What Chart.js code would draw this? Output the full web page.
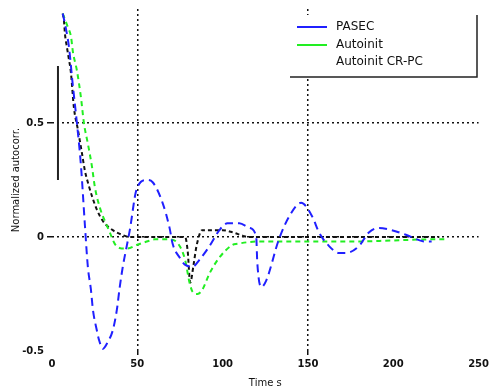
<!DOCTYPE html>
<html>
<head>
<meta charset="utf-8">
<script src="https://cdn.jsdelivr.net/npm/chart.js@4/dist/chart.umd.min.js"></script>
<style>
  html, body { margin: 0; padding: 0; background: #fff; }
  canvas { display: block; }
</style>
</head>
<body>
<canvas id="c" width="492" height="389"></canvas>
<script>
// Series names
const seriesNames = ['PASEC', 'Autoinit', 'Autoinit CR-PC'];

// Lag positions and values for each series
const lagsA = [6.3, 8, 10, 12, 14.6, 17, 19.3, 21, 22.8, 24, 26.3, 27.5, 29.8, 32.7, 35.6, 38, 39.7, 41.5, 43.8, 45.6, 49.6, 55.5, 59, 64.8, 68.9, 70.7, 74.8, 77.7, 82.4, 86.4, 92.3, 98.1, 102.8, 109.8, 115.7, 119.7, 120.3, 122.7, 125.6, 133, 139, 146, 152.5, 156.5, 162.4, 168.2, 172.3, 179.9, 185.7, 191.6, 199.2, 207.4, 219, 222.5];
const valsA = [0.98, 0.92, 0.83, 0.68, 0.50, 0.31, 0.05, -0.13, -0.23, -0.32, -0.41, -0.45, -0.49, -0.46, -0.41, -0.32, -0.22, -0.13, -0.04, 0.03, 0.21, 0.25, 0.24, 0.15, 0.04, -0.03, -0.09, -0.12, -0.13, -0.10, -0.04, 0.03, 0.06, 0.06, 0.04, 0.0, -0.11, -0.22, -0.19, -0.01, 0.09, 0.15, 0.09, 0.02, -0.04, -0.07, -0.07, -0.04, 0.02, 0.04, 0.03, 0.01, -0.02, -0.02];

const lagsB = [6.3, 9.3, 11.1, 12.3, 14.6, 17, 18.7, 21, 23.4, 25.1, 28, 31, 33.9, 36.8, 40.9, 44.4, 49.6, 55.5, 60.2, 68, 74, 78, 80.6, 82.4, 85.3, 88.2, 92.3, 98.1, 105.7, 108.6, 120, 135, 149.5, 176, 200, 225, 231];
const valsB = [0.98, 0.92, 0.88, 0.81, 0.73, 0.61, 0.50, 0.41, 0.31, 0.22, 0.13, 0.07, 0.02, -0.03, -0.05, -0.05, -0.035, -0.02, -0.01, -0.01, -0.03, -0.10, -0.20, -0.24, -0.25, -0.23, -0.16, -0.09, -0.035, -0.03, -0.02, -0.02, -0.02, -0.02, -0.015, -0.01, -0.01];

const lagsC = [6.3, 7, 7.6, 8.8, 9.9, 11.1, 12.8, 15.2, 17.5, 19.3, 21, 23.4, 26.3, 29.8, 35.6, 40.9, 45.6, 60, 78, 79.5, 81, 83, 84.7, 88, 92, 100, 106, 112, 115, 150, 227];
const valsC = [0.98, 0.95, 0.89, 0.83, 0.78, 0.72, 0.57, 0.47, 0.37, 0.29, 0.24, 0.18, 0.12, 0.07, 0.03, 0.01, 0.0, 0.0, 0.0, -0.06, -0.2, -0.12, -0.04, 0.03, 0.03, 0.03, 0.02, 0.005, 0.0, 0.0, 0.0];

// Scale bar at the left of the plot
const barLags = [3.5, 3.5];
const barVals = [0.25, 0.75];

// Axis ticks
const xTicks = [0, 50, 100, 150, 200, 250];
const yTicks = [-0.5, 0, 0.5, 1];
const xGridAt = [50, 150];
const yGridAt = [0, 0.5];

const pts = (xs, ys) => xs.map((x, i) => ({ x: x, y: ys[i] }));

const colors = ['#2020ff', '#22ee22', '#111111'];

// Legend box drawn inside the plot at the upper right
const legendBox = {
  id: 'legendBox',
  afterDraw(chart) {
    const ctx = chart.ctx;
    const x0 = 290, y0 = 15, x1 = 477, y1 = 77;
    ctx.save();
    ctx.fillStyle = '#fff';
    ctx.fillRect(x0, y0, x1 - x0, y1 - y0);
    ctx.strokeStyle = '#222';
    ctx.lineWidth = 1.5;
    ctx.beginPath();
    ctx.moveTo(x0, y1);
    ctx.lineTo(x1, y1);
    ctx.lineTo(x1, y0);
    ctx.stroke();
    ctx.font = '12px "DejaVu Sans"';
    ctx.textBaseline = 'middle';
    ctx.fillStyle = '#111';
    const rows = [27, 45, 62];
    seriesNames.forEach((name, i) => {
      if (i < 2) {
        ctx.strokeStyle = colors[i];
        ctx.lineWidth = 2;
        ctx.beginPath();
        ctx.moveTo(297, rows[i]);
        ctx.lineTo(327, rows[i]);
        ctx.stroke();
      }
      ctx.fillText(name, 336, rows[i]);
    });
    ctx.restore();
  }
};

const gridColor = (list) => (c) => (c.tick && list.includes(c.tick.value)) ? '#111' : 'rgba(0,0,0,0)';

new Chart(document.getElementById('c'), {
  type: 'line',
  data: {
    datasets: [
      { label: seriesNames[0], data: pts(lagsA, valsA), borderColor: colors[0], borderWidth: 2, borderDash: [8, 5], pointRadius: 0, cubicInterpolationMode: 'monotone' },
      { label: seriesNames[1], data: pts(lagsB, valsB), borderColor: colors[1], borderWidth: 2, borderDash: [5, 4], pointRadius: 0, cubicInterpolationMode: 'monotone' },
      { label: seriesNames[2], data: pts(lagsC, valsC), borderColor: colors[2], borderWidth: 2, borderDash: [4, 3], pointRadius: 0, cubicInterpolationMode: 'monotone' },
      { label: '', data: pts(barLags, barVals), borderColor: '#222', borderWidth: 2, pointRadius: 0 }
    ]
  },
  options: {
    responsive: false,
    animation: false,
    maintainAspectRatio: false,
    layout: { padding: { top: 9, right: 12, left: 0, bottom: 0 } },
    plugins: { legend: { display: false }, tooltip: { enabled: false } },
    scales: {
      x: {
        type: 'linear', min: 0, max: 250,
        afterBuildTicks: (s) => { s.ticks = xTicks.map(v => ({ value: v })); },
        afterFit: (s) => { s.height = 38; },
        border: { display: false, dash: [2, 3] },
        grid: { color: gridColor(xGridAt), lineWidth: 1.5, tickLength: 4, drawTicks: true },
        ticks: { color: '#111', font: { family: 'DejaVu Sans', size: 10, weight: 'bold' }, padding: 3, maxRotation: 0 },
        title: { display: true, text: 'Time s', color: '#111', font: { family: 'DejaVu Sans', size: 10 }, padding: { top: 2, bottom: 0 } }
      },
      y: {
        min: -0.5, max: 1,
        afterBuildTicks: (s) => { s.ticks = yTicks.map(v => ({ value: v })); },
        afterFit: (s) => { s.width = 52; },
        border: { display: false, dash: [2, 3] },
        grid: { color: gridColor(yGridAt), lineWidth: 1.5, tickLength: 5, drawTicks: true },
        ticks: { color: '#111', font: { family: 'DejaVu Sans', size: 10, weight: 'bold' }, padding: 3,
          callback: (v) => v === 1 ? '' : String(v) },
        title: { display: true, text: 'Normalized autocorr.', color: '#111', font: { family: 'DejaVu Sans', size: 10 }, padding: { top: 10, bottom: 0 } }
      }
    }
  },
  plugins: [legendBox]
});
</script>
</body>
</html>
